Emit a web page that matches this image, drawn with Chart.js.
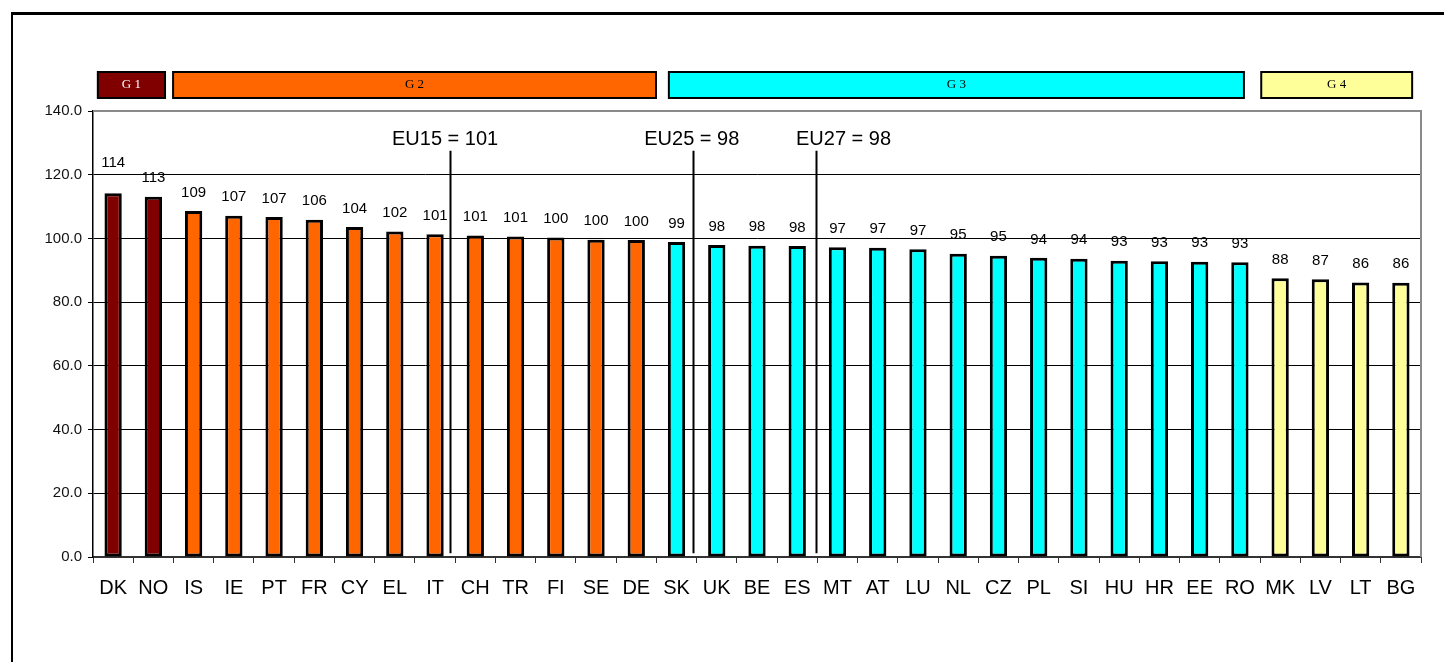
<!DOCTYPE html>
<html>
<head>
<meta charset="utf-8">
<script src="https://cdn.jsdelivr.net/npm/chart.js@4.4.1/dist/chart.umd.min.js"></script>
<style>
  html, body { margin: 0; padding: 0; background: #fff; overflow: hidden; }
  #frame { position: absolute; left: 11px; top: 12px; width: 2000px; height: 2000px;
           border-left: 2px solid #000; border-top: 3px solid #000; }
  #wrap { position: absolute; left: 0; top: 0; width: 1444px; height: 662px; }
</style>
</head>
<body>
<div id="frame"></div>
<div id="wrap"><canvas id="c" width="1444" height="662"></canvas></div>
<script>
// ---- data ----
const categories = ['DK','NO','IS','IE','PT','FR','CY','EL','IT','CH','TR','FI','SE','DE','SK','UK','BE','ES','MT','AT','LU','NL','CZ','PL','SI','HU','HR','EE','RO','MK','LV','LT','BG'];
const values = [114.2,113.1,108.6,107.1,106.7,105.9,103.6,102.2,101.3,100.9,100.6,100.3,99.6,99.5,98.9,97.9,97.7,97.6,97.2,97.1,96.6,95.2,94.6,93.9,93.6,93.0,92.8,92.7,92.5,87.5,87.2,86.2,86.1];
const groupNames = ['G 1','G 2','G 3','G 4'];
const groupSizes = [2, 12, 15, 4];
const groupColors = ['#800000','#FF6600','#00FFFF','#FFFF99'];
const groupTextColors = ['#ffffff','#000000','#000000','#000000'];
// band extents in category-index units
const groupBandStart = [0.12, 1.99, 14.31, 29.03];
const groupBandEnd = [1.79, 13.99, 28.60, 32.78];
const yTicks = [0, 20, 40, 60, 80, 100, 120, 140];
const refLabels = ['EU15 = 101', 'EU25 = 98', 'EU27 = 98'];
const refLinePos = [8.87, 14.90, 17.97];   // category-index position of the vertical line
const refTextPos = [8.75, 14.88, 18.65];   // category-index position of the text centre

// colour per bar from groups
const barColors = [];
groupSizes.forEach((n, g) => { for (let i = 0; i < n; i++) barColors.push(groupColors[g]); });

const FONT = 'Arial, "Liberation Sans", sans-serif';

const decor = {
  id: 'decor',
  afterDatasetsDraw(chart) {
    const ctx = chart.ctx, xs = chart.scales.x, ys = chart.scales.y, ca = chart.chartArea;
    const step = xs.getPixelForValue(1) - xs.getPixelForValue(0);
    const edge = v => xs.getPixelForValue(0) - step / 2 + v * step; // index units from left edge
    ctx.save();
    // grey top / right plot border
    ctx.strokeStyle = '#8a8a8a';
    ctx.lineWidth = 2;
    ctx.beginPath();
    ctx.moveTo(ca.left, ca.top); ctx.lineTo(ca.right, ca.top); ctx.lineTo(ca.right, ca.bottom);
    ctx.stroke();
    // value labels
    ctx.fillStyle = '#000';
    ctx.font = '15px ' + FONT;
    ctx.textAlign = 'center';
    ctx.textBaseline = 'middle';
    const meta = chart.getDatasetMeta(0);
    meta.data.forEach((bar, i) => {
      const lift = i === 0 ? 30 : 18.5;
      ctx.fillText(String(Math.round(values[i])), bar.x, ys.getPixelForValue(values[i]) - lift);
    });
    // reference lines
    ctx.strokeStyle = '#000';
    ctx.lineWidth = 2;
    ctx.font = '20px ' + FONT;
    ctx.textBaseline = 'alphabetic';
    refLabels.forEach((t, i) => {
      const x = Math.round(edge(refLinePos[i])) + 0.5;
      ctx.beginPath();
      ctx.moveTo(x, ys.getPixelForValue(127.5));
      ctx.lineTo(x, ys.getPixelForValue(1.2));
      ctx.stroke();
      ctx.fillText(t, edge(refTextPos[i]), ys.getPixelForValue(129.3));
    });
    // group bands
    ctx.font = '13px "Liberation Serif", "Times New Roman", serif';
    ctx.textBaseline = 'middle';
    ctx.lineWidth = 2;
    groupNames.forEach((g, i) => {
      const x0 = edge(groupBandStart[i]), x1 = edge(groupBandEnd[i]);
      const y0 = 72, y1 = 98;
      ctx.fillStyle = groupColors[i];
      ctx.fillRect(x0, y0, x1 - x0, y1 - y0);
      ctx.strokeStyle = '#000';
      ctx.strokeRect(x0, y0, x1 - x0, y1 - y0);
      ctx.fillStyle = groupTextColors[i];
      ctx.fillText(g, (x0 + x1) / 2, (y0 + y1) / 2);
    });
    ctx.restore();
  }
};

new Chart(document.getElementById('c'), {
  type: 'bar',
  data: {
    labels: categories,
    datasets: [{
      data: values,
      backgroundColor: barColors,
      borderColor: '#000',
      borderWidth: 3,
      borderSkipped: false,
      barPercentage: 0.43,
      categoryPercentage: 1.0
    }]
  },
  options: {
    responsive: false,
    animation: false,
    devicePixelRatio: 1,
    layout: { padding: { top: 111, right: 23, left: 0, bottom: 0 } },
    plugins: { legend: { display: false }, tooltip: { enabled: false } },
    scales: {
      x: {
        grid: { display: true, drawOnChartArea: false, drawTicks: true, tickLength: 6, color: '#333', offset: true },
        border: { color: '#333', width: 2 },
        ticks: { color: '#000', font: { family: FONT, size: 20 }, padding: 13, maxRotation: 0, autoSkip: false },
        afterFit(scale) { scale.height = 105; }
      },
      y: {
        min: 0, max: 140,
        afterBuildTicks(scale) { scale.ticks = yTicks.map(v => ({ value: v })); },
        grid: { color: '#000', lineWidth: 1, drawTicks: true, tickLength: 5 },
        border: { color: '#000', width: 1.5 },
        ticks: { color: '#111', font: { family: FONT, size: 15 }, padding: 6, callback: v => Number(v).toFixed(1) },
        afterFit(scale) { scale.width = 93; }
      }
    }
  },
  plugins: [decor]
});
</script>
</body>
</html>
